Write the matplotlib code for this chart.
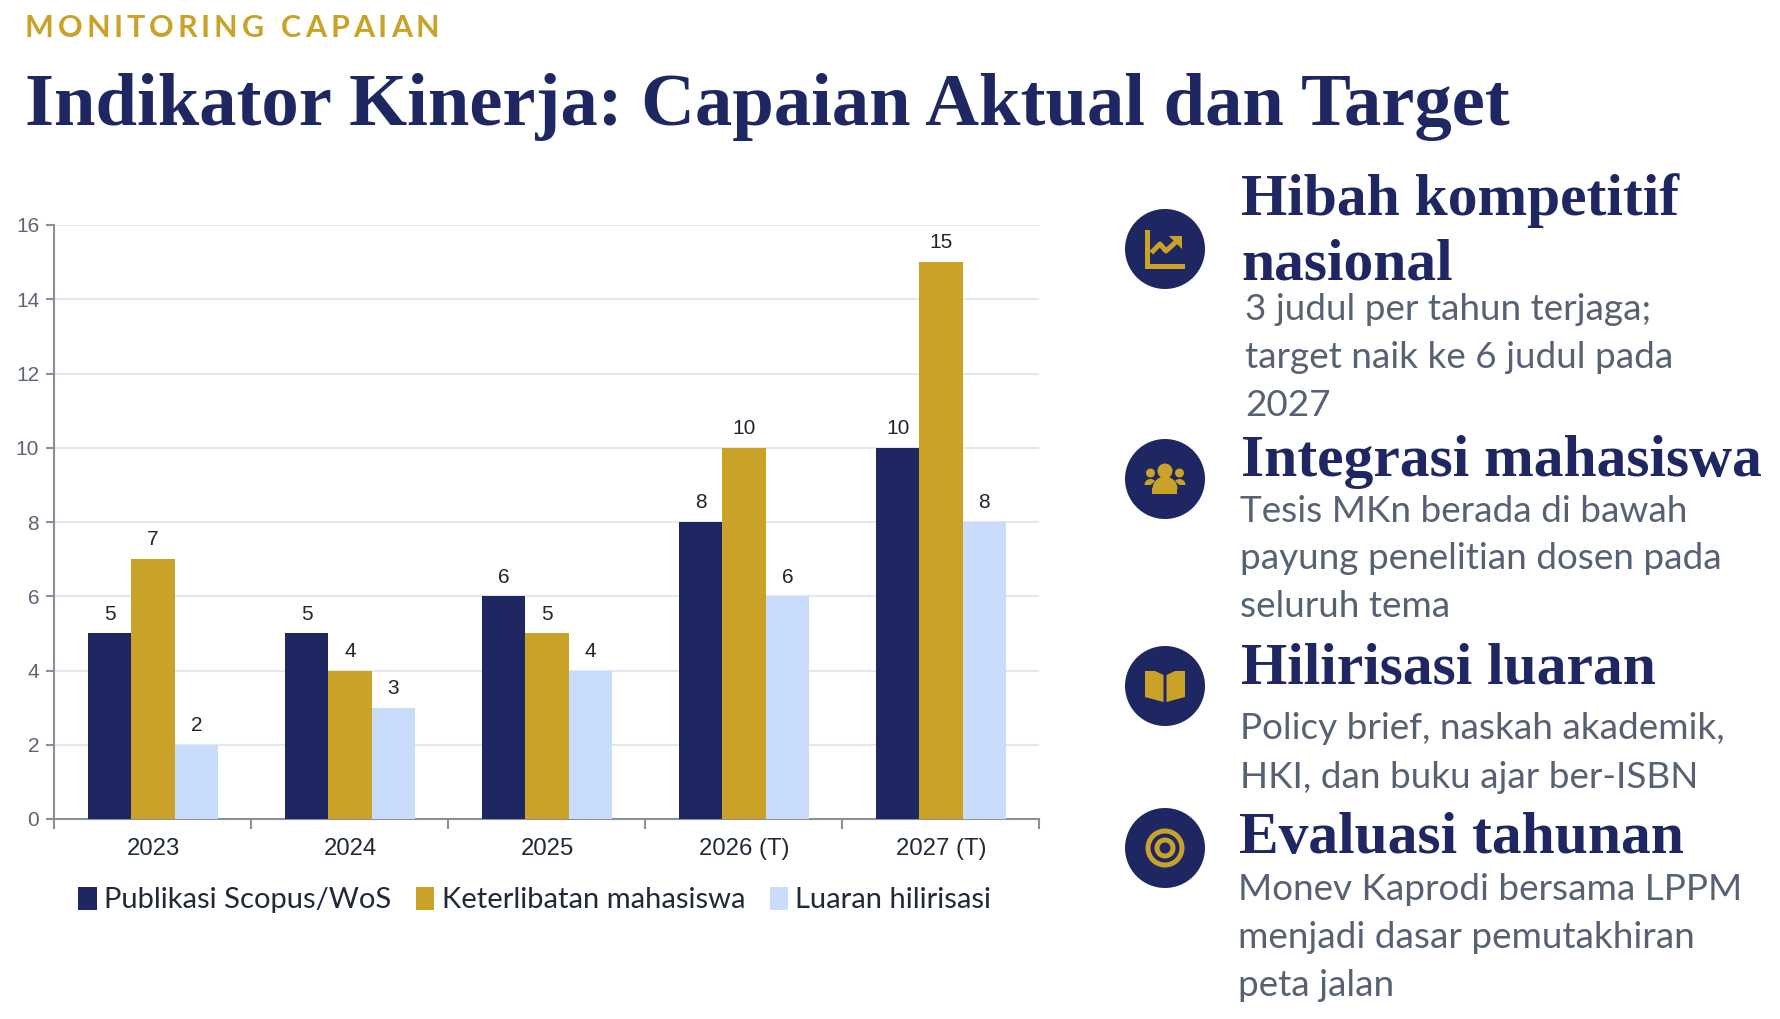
import matplotlib
matplotlib.use('Agg')
import matplotlib.pyplot as plt
import numpy as np
from matplotlib.patches import Circle, Polygon, Rectangle, Wedge

NAVY = '#1E2761'
GOLD = '#C9A227'
ICE = '#CADCFC'
GREY = '#566173'
W, H = 1781, 1019

years = ['2023', '2024', '2025', '2026 (T)', '2027 (T)']
publikasi = [5, 5, 6, 8, 10]
keterlibatan = [7, 4, 5, 10, 15]
hilirisasi = [2, 3, 4, 6, 8]
series_names = ['Publikasi Scopus/WoS', 'Keterlibatan mahasiswa', 'Luaran hilirisasi']
eyebrow = 'MONITORING CAPAIAN'
title = 'Indikator Kinerja: Capaian Aktual dan Target'

# heading text, x, baseline y
headings = [
    ('Hibah kompetitif', 1241, 215),
    ('nasional', 1241, 280),
    ('Integrasi mahasiswa', 1241, 476),
    ('Hilirisasi luaran', 1241, 683),
    ('Evaluasi tahunan', 1239, 853),
]
bodies = [
    ('3 judul per tahun terjaga;', 1245, 320),
    ('target naik ke 6 judul pada', 1245, 368),
    ('2027', 1245, 416),
    ('Tesis MKn berada di bawah', 1240, 522),
    ('payung penelitian dosen pada', 1240, 569),
    ('seluruh tema', 1240, 617),
    ('Policy brief, naskah akademik,', 1240, 739),
    ('HKI, dan buku ajar ber-ISBN', 1240, 788),
    ('Monev Kaprodi bersama LPPM', 1238, 900),
    ('menjadi dasar pemutakhiran', 1238, 948),
    ('peta jalan', 1238, 996),
]

fig = plt.figure(figsize=(W / 100, H / 100), dpi=100, facecolor='white')

# chart
ax = fig.add_axes([54.5 / W, 1 - 819 / H, 985 / W, 594 / H])
x = np.arange(len(years))
bw = 0.22
b1 = ax.bar(x - bw, publikasi, bw, color=NAVY, label=series_names[0], zorder=3)
b2 = ax.bar(x, keterlibatan, bw, color=GOLD, label=series_names[1], zorder=3)
b3 = ax.bar(x + bw, hilirisasi, bw, color=ICE, label=series_names[2], zorder=3)
for b in (b1, b2, b3):
    ax.bar_label(b, padding=7, fontsize=15, color='#1F2430', family='Liberation Sans')
ax.set_xlim(-0.5, 4.5)
ax.set_ylim(0, 16)
ax.set_yticks(range(0, 17, 2))
ax.set_xticks(np.arange(-0.5, 5, 1))
ax.set_xticklabels([])
ax.set_xticks(x, minor=True)
ax.set_xticklabels(years, minor=True, fontsize=17.2, color='#1F2937', family='Liberation Sans')
ax.tick_params(axis='x', which='minor', length=0, pad=14)
ax.tick_params(axis='x', which='major', length=7, width=1.5, color='#8A8F98')
ax.tick_params(axis='y', length=6, width=1.5, color='#8A8F98', labelcolor='#5B6575', labelsize=15, pad=5)
for lab in ax.get_yticklabels():
    lab.set_family('Liberation Sans')
ax.grid(axis='y', color='#E2E8F0', lw=1.5, zorder=0)
for s in ('top', 'right'):
    ax.spines[s].set_visible(False)
for s in ('left', 'bottom'):
    ax.spines[s].set_color('#8A8F98')
    ax.spines[s].set_linewidth(1.5)
ax.legend(loc='upper left', bbox_to_anchor=(24 / 985, -0.114), ncol=3, frameon=False,
          prop={'family': 'Lato', 'size': 21}, labelcolor='#1F2937',
          handlelength=0.62, handleheight=0.85, handletextpad=0.26, columnspacing=0.84,
          borderpad=0, borderaxespad=0)

# overlay in pixels for the slide texts and icons
ov = fig.add_axes([0, 0, 1, 1], facecolor='none')
ov.set_xlim(0, W)
ov.set_ylim(H, 0)
ov.axis('off')

# eyebrow with wide tracking
r = fig.canvas.get_renderer()
cx = 25
for ch in eyebrow:
    t = ov.text(cx, 37, ch, family='Lato', weight='bold', fontsize=22, color=GOLD, va='baseline')
    adv = t.get_window_extent(r).width if ch != ' ' else 10
    cx += adv + 3.85

ov.text(25, 125, title, family='Liberation Serif', weight='bold', fontsize=53.7, color=NAVY, va='baseline')
for txt, tx, ty in headings:
    ov.text(tx, ty, txt, family='Liberation Serif', weight='bold', fontsize=42.8, color=NAVY, va='baseline')
for txt, tx, ty in bodies:
    ov.text(tx, ty, txt, family='Lato', fontsize=26.6, color=GREY, va='baseline')

# icons
centers = [(1165, 249), (1165, 479), (1165, 686), (1165, 848)]
for c in centers:
    ov.add_patch(Circle(c, 40, color=NAVY, lw=0))

# trend icon
cx, cy = centers[0]
ov.add_patch(Rectangle((cx - 20, cy - 19), 5, 39, color=GOLD, lw=0))
ov.add_patch(Rectangle((cx - 20, cy + 15), 40, 5, color=GOLD, lw=0))
ov.plot([cx - 12, cx - 5, cx + 1, cx + 13], [cy + 2, cy - 5, cy + 2, cy - 9], color=GOLD, lw=3.6)
ov.add_patch(Polygon([(cx + 4, cy - 13), (cx + 17, cy - 13), (cx + 17, cy)], color=GOLD, lw=0))

# people icon
cx, cy = centers[1]
ov.add_patch(Circle((cx, cy - 8), 7.5, color=GOLD, lw=0))
ov.add_patch(Circle((cx - 14.5, cy - 6), 4.5, color=GOLD, lw=0))
ov.add_patch(Circle((cx + 14.5, cy - 6), 4.5, color=GOLD, lw=0))
ov.add_patch(Wedge((cx, cy + 10), 12.5, 180, 360, color=GOLD, lw=0))
ov.add_patch(Rectangle((cx - 12.5, cy + 9), 25, 6, color=GOLD, lw=0))
ov.add_patch(Wedge((cx - 14.5, cy + 6), 6, 180, 320, color=GOLD, lw=0))
ov.add_patch(Wedge((cx + 14.5, cy + 6), 6, 220, 360, color=GOLD, lw=0))

# book icon
cx, cy = centers[2]
ov.add_patch(Polygon([(cx - 20, cy - 15), (cx - 10, cy - 15), (cx - 1.5, cy - 11), (cx - 1.5, cy + 16), (cx - 20, cy + 11)], color=GOLD, lw=0))
ov.add_patch(Polygon([(cx + 20, cy - 15), (cx + 10, cy - 15), (cx + 1.5, cy - 11), (cx + 1.5, cy + 16), (cx + 20, cy + 11)], color=GOLD, lw=0))

# target icon
cx, cy = centers[3]
ov.add_patch(Circle((cx, cy), 19.5, color=GOLD, lw=0))
ov.add_patch(Circle((cx, cy), 14.5, color=NAVY, lw=0))
ov.add_patch(Circle((cx, cy), 10.5, color=GOLD, lw=0))
ov.add_patch(Circle((cx, cy), 5.5, color=NAVY, lw=0))

fig.savefig('out.png', dpi=100)
